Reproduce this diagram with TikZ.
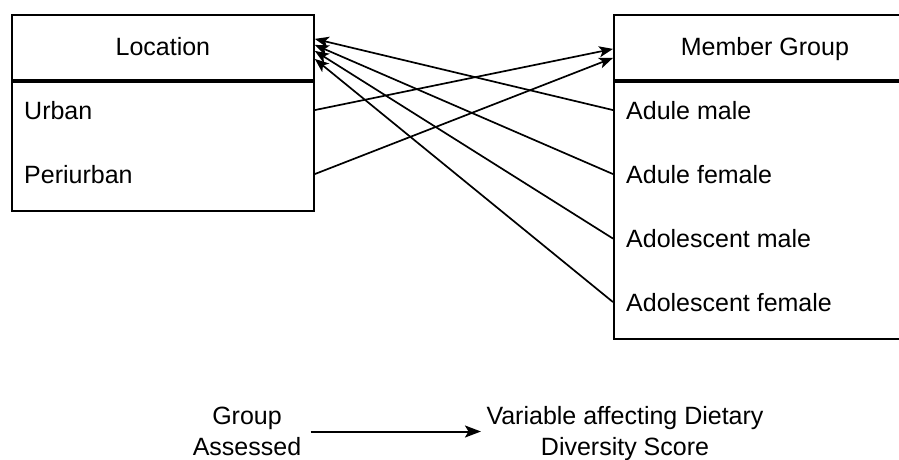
\documentclass[tikz,border=0pt]{standalone}
\usepackage{fontspec}
\setmainfont{Liberation Sans}
\usetikzlibrary{arrows.meta}
\tikzset{
  head/.style={draw, line width=1.8pt, minimum height=65pt, minimum width=302pt,
    anchor=north west, text height=18pt, text depth=2pt},
  body/.style={draw, line width=1.8pt, minimum width=302pt, anchor=north west},
  item/.style={anchor=base west, inner sep=0pt},
  link/.style={line width=1.7pt, -{Stealth[length=14pt,width=11pt,inset=3.5pt]}},
}
\begin{document}
\begin{tikzpicture}[x=1pt, y=1pt, font=\fontsize{25}{31}\selectfont]
\useasboundingbox (0,0) rectangle (899,-459);
% left table
\node[head] (loc) at (11,-14) {Location};
\node[body, minimum height=129pt] (locbody) at (loc.south west) {};
\node[item] (urban) at (24,-119) {Urban};
\node[item] (periurban) at (24,-183) {Periurban};
% right table
\node[head] (mg) at (613,-14) {Member Group};
\node[body, minimum height=257pt] (mgbody) at (mg.south west) {};
\node[item] (amale) at (626,-119) {Adule male};
\node[item] (afemale) at (626,-183) {Adule female};
\node[item] (dmale) at (626,-247.5) {Adolescent male};
\node[item] (dfemale) at (626,-311) {Adolescent female};
% connectors
\draw[link] (urban -| locbody.east) -- ([yshift=-1.5pt]mg.west);
\draw[link] (periurban -| locbody.east) -- ([yshift=-10.5pt]mg.west);
\draw[link] (amale -| mgbody.west) -- ([yshift=8.5pt]loc.east);
\draw[link] (afemale -| mgbody.west) -- ([yshift=2.5pt]loc.east);
\draw[link] (dmale -| mgbody.west) -- ([yshift=-3.5pt]loc.east);
\draw[link] (dfemale -| mgbody.west) -- ([yshift=-11.5pt]loc.east);
% legend
\node[align=center] (grp) at (247,-431.5) {Group\\Assessed};
\node[align=center] (var) at (625,-434) {Variable affecting Dietary\\Diversity Score};
\draw[line width=2pt, -{Stealth[length=16pt,width=12pt,inset=3.5pt]}] ([xshift=6pt]grp.east) -- ([xshift=-2pt]grp.east -| var.west);
\end{tikzpicture}
\end{document}
